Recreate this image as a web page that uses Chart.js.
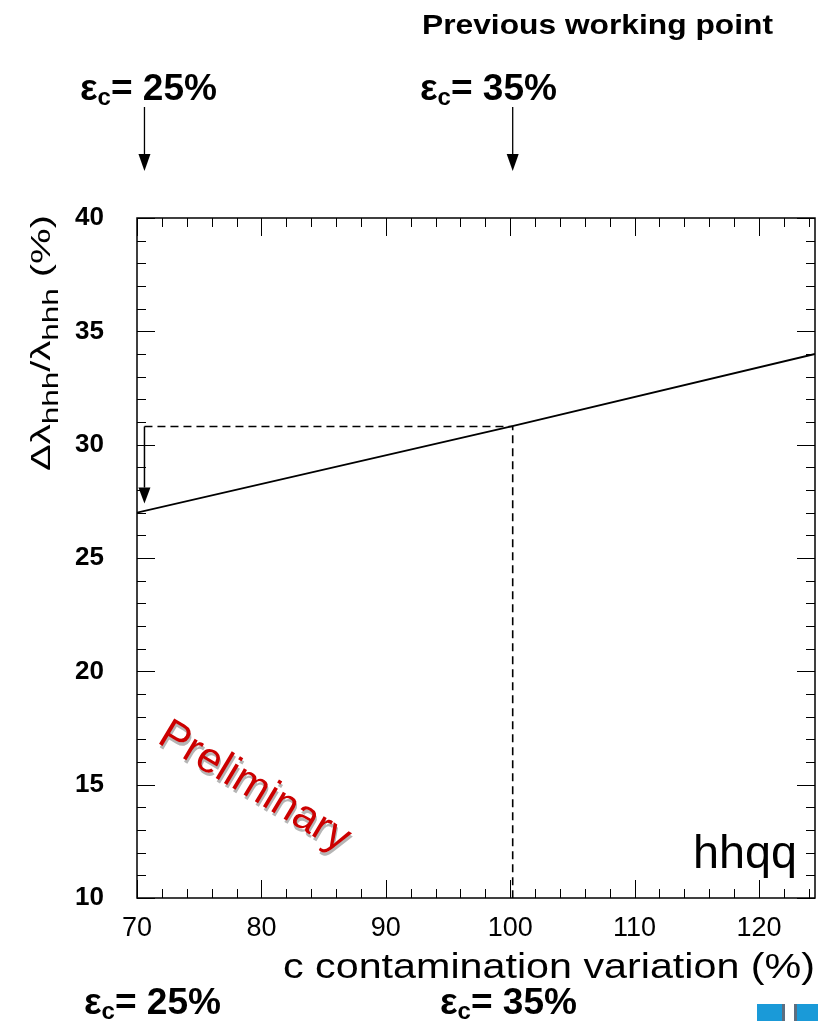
<!DOCTYPE html>
<html>
<head>
<meta charset="utf-8">
<script src="https://cdn.jsdelivr.net/npm/chart.js@4.4.1/dist/chart.umd.min.js"></script>
<style>
  html, body { margin: 0; padding: 0; background: #fff; }
  #wrap { width: 818px; height: 1021px; position: relative; }
</style>
</head>
<body>
<div id="wrap"><canvas id="chart"></canvas></div>
<script>
// values
const xLimits = [70, 124.5];
const yLimits = [10, 40];
const xTicks = [70, 80, 90, 100, 110, 120];
const yTicks = [10, 15, 20, 25, 30, 35, 40];
const contamination = [70, 100, 124.5];       // c contamination variation (%)
const resolution = [27.0, 30.8, 34.0];        // Δλhhh/λhhh (%)
const workingX = [70.6, 100.2];               // εc = 25% and εc = 35% positions
const workingY = 30.8;
const arrowEndY = 27.4;
const workingLabels = ["25%", "35%"];

const font = "'Liberation Sans', Arial, sans-serif";

// draw a run of [text, font, dy] parts squeezed/stretched to a given width
function drawParts(ctx, parts, x, y, width) {
  let total = 0;
  parts.forEach(p => { ctx.font = p[1]; total += ctx.measureText(p[0]).width; });
  ctx.save();
  ctx.translate(x, y);
  ctx.scale(width / total, 1);
  ctx.textAlign = "left";
  ctx.textBaseline = "alphabetic";
  let cx = 0;
  parts.forEach(p => {
    ctx.font = p[1];
    ctx.fillText(p[0], cx, p[2]);
    cx += ctx.measureText(p[0]).width;
  });
  ctx.restore();
}

function drawEps(ctx, x, y, value) {
  const big = "bold 37px " + font, small = "bold 24px " + font;
  drawParts(ctx, [["ε", big, 0], ["c", small, 5], ["= " + value, big, 0]], x, y, 137);
}

function arrowDown(ctx, x, y0, y1, head) {
  ctx.beginPath();
  ctx.moveTo(x, y0);
  ctx.lineTo(x, y1 - head);
  ctx.stroke();
  ctx.beginPath();
  ctx.moveTo(x - 6, y1 - head);
  ctx.lineTo(x + 6, y1 - head);
  ctx.lineTo(x, y1);
  ctx.closePath();
  ctx.fill();
}

const overlay = {
  id: "overlay",
  afterDraw(chart) {
    const { ctx, chartArea: a, scales: { x, y } } = chart;
    ctx.save();
    ctx.strokeStyle = "#000";
    ctx.fillStyle = "#000";

    // frame
    ctx.lineWidth = 1.5;
    ctx.strokeRect(a.left, a.top, a.right - a.left, a.bottom - a.top);

    // inside ticks, ROOT style
    ctx.lineWidth = 1;
    ctx.beginPath();
    for (let v = 70; v <= xLimits[1]; v += 2) {
      const px = Math.round(x.getPixelForValue(v)) + 0.5;
      const len = v % 10 === 0 ? 18 : 9;
      ctx.moveTo(px, a.bottom); ctx.lineTo(px, a.bottom - len);
      ctx.moveTo(px, a.top); ctx.lineTo(px, a.top + len);
    }
    for (let v = yLimits[0]; v <= yLimits[1]; v += 1) {
      const py = Math.round(y.getPixelForValue(v)) + 0.5;
      const len = v % 5 === 0 ? 18 : 9;
      ctx.moveTo(a.left, py); ctx.lineTo(a.left + len, py);
      ctx.moveTo(a.right, py); ctx.lineTo(a.right - len, py);
    }
    ctx.stroke();

    // arrow from the working point down to the new value
    ctx.lineWidth = 1.5;
    arrowDown(ctx, x.getPixelForValue(workingX[0]), y.getPixelForValue(workingY),
      y.getPixelForValue(arrowEndY), 16);

    // top annotations
    drawParts(ctx, [["Previous working point", "bold 28px " + font, 0]], 422, 34, 351);
    drawEps(ctx, 80, 100, workingLabels[0]);
    drawEps(ctx, 420, 100, workingLabels[1]);
    ctx.lineWidth = 1.3;
    workingX.forEach(v => arrowDown(ctx, x.getPixelForValue(v), 107, 171, 17));

    // bottom annotations
    drawEps(ctx, 84, 1014, workingLabels[0]);
    drawEps(ctx, 440, 1014, workingLabels[1]);

    // axis title
    drawParts(ctx, [["c contamination variation (%)", "35px " + font, 0]], 283, 978, 532);

    // hhqq label
    drawParts(ctx, [["hhqq", "46px " + font, 0]], 693, 868, 104);

    // y axis title with subscripts, rotated
    ctx.save();
    ctx.translate(50, 471);
    ctx.rotate(-Math.PI / 2);
    const big = "28px " + font, small = "22px " + font;
    drawParts(ctx, [["Δλ", big, 0], ["hhh", small, 8], ["/λ", big, 0], ["hhh", small, 8], [" (%)", big, 0]], 0, 0, 256);
    ctx.restore();

    // Preliminary stamp
    ctx.save();
    ctx.translate(156, 742);
    ctx.rotate(31 * Math.PI / 180);
    ctx.font = "43px " + font;
    ctx.textAlign = "left";
    ctx.fillStyle = "#b5b5b5";
    ctx.fillText("Preliminary", 2.5, 2.5);
    ctx.fillStyle = "#cc0000";
    ctx.fillText("Preliminary", 0, 0);
    ctx.restore();

    // logo fragment at the bottom right
    ctx.fillStyle = "#1a9ad8";
    ctx.fillRect(757, 1004, 25, 17);
    ctx.fillRect(797, 1004, 21, 17);
    ctx.fillStyle = "#5d6e80";
    ctx.fillRect(782, 1004, 3, 17);
    ctx.fillRect(794, 1004, 3, 17);

    ctx.restore();
  }
};

new Chart(document.getElementById("chart"), {
  type: "scatter",
  data: {
    datasets: [
      {
        label: "hhqq",
        data: contamination.map((v, i) => ({ x: v, y: resolution[i] })),
        showLine: true,
        borderColor: "#000",
        borderWidth: 1.8,
        pointRadius: 0
      },
      {
        label: "working point",
        data: [
          { x: workingX[0], y: workingY },
          { x: workingX[1], y: workingY },
          { x: workingX[1], y: yLimits[0] }
        ],
        showLine: true,
        borderColor: "#000",
        borderWidth: 1.6,
        borderDash: [8, 5],
        pointRadius: 0
      }
    ]
  },
  options: {
    responsive: true,
    maintainAspectRatio: false,
    animation: false,
    layout: { padding: { top: 218, right: 3, left: 0, bottom: 0 } },
    plugins: { legend: { display: false }, tooltip: { enabled: false } },
    scales: {
      x: {
        type: "linear",
        min: xLimits[0],
        max: xLimits[1],
        grid: { display: false },
        border: { display: false },
        afterFit: s => { s.height = 123; },
        afterBuildTicks: s => { s.ticks = xTicks.map(v => ({ value: v })); },
        ticks: {
          autoSkip: false,
          maxRotation: 0,
          padding: 6,
          color: "#000",
          font: { family: font, size: 27 }
        }
      },
      y: {
        type: "linear",
        min: yLimits[0],
        max: yLimits[1],
        grid: { display: false },
        border: { display: false },
        afterFit: s => { s.width = 137; },
        afterBuildTicks: s => { s.ticks = yTicks.map(v => ({ value: v })); },
        ticks: {
          padding: 25,
          color: "#000",
          font: { family: font, size: 26, weight: "bold" }
        }
      }
    }
  },
  plugins: [overlay]
});
</script>
</body>
</html>
